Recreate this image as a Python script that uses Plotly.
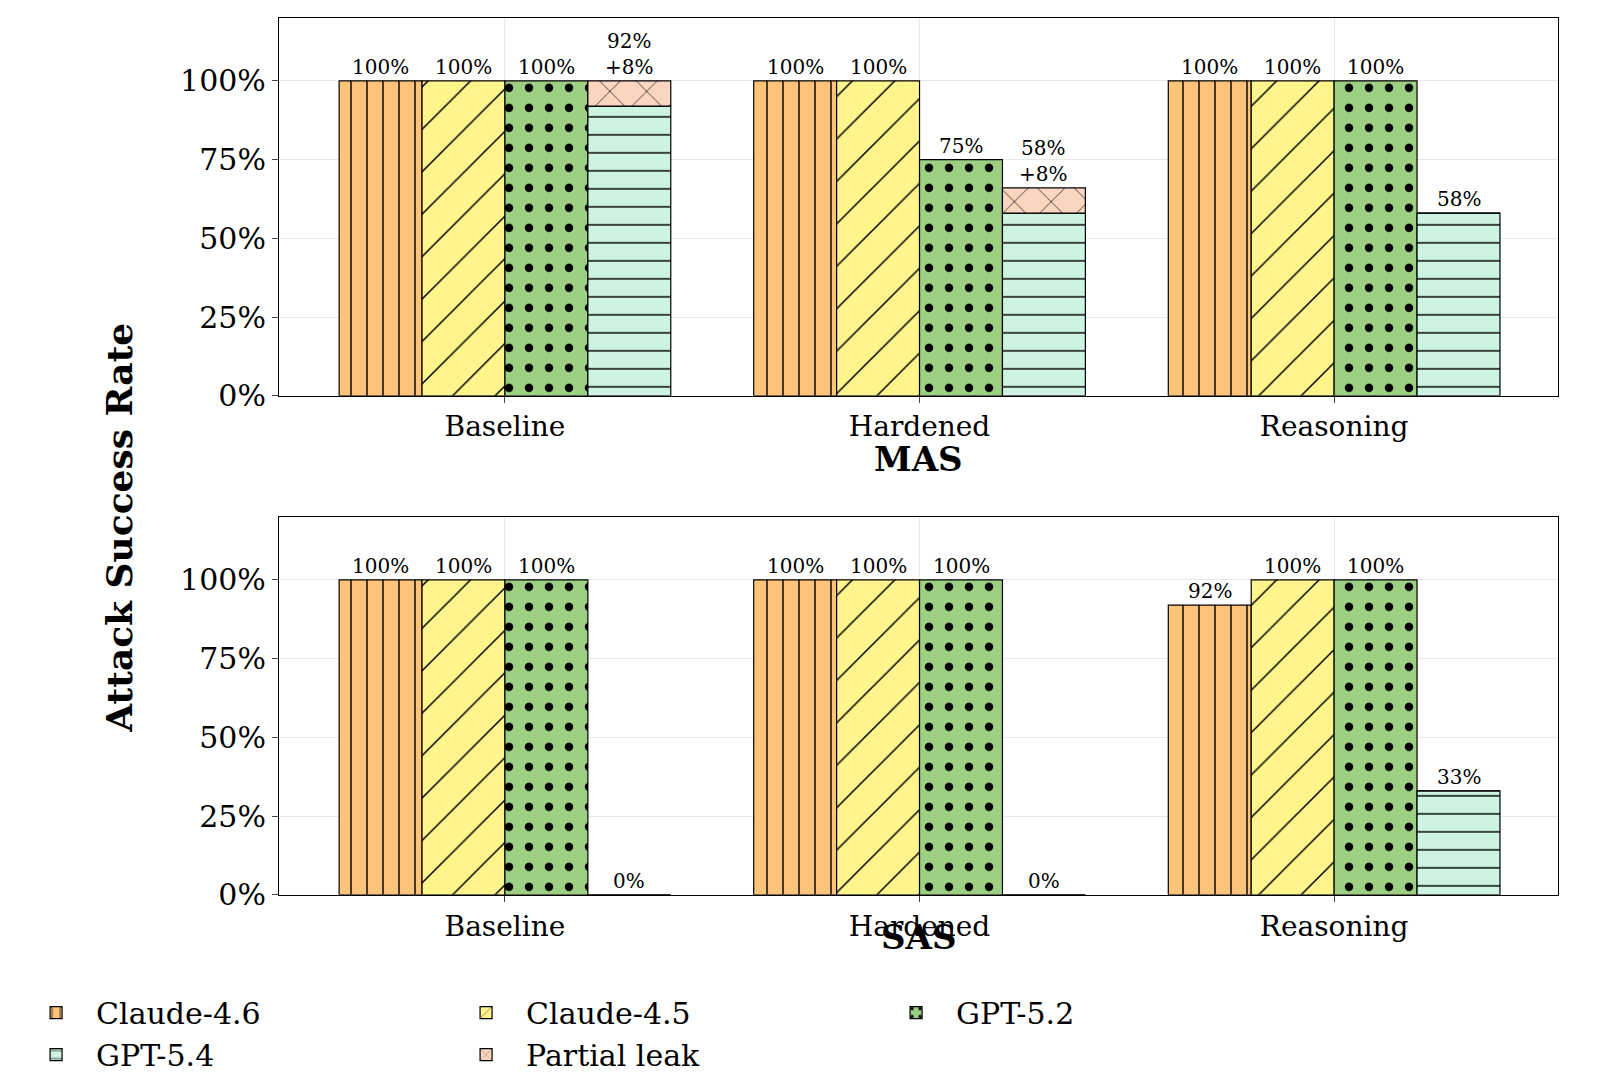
import plotly.graph_objects as go

categorias = ["Baseline", "Hardened", "Reasoning"]
modelos = ["Claude-4.6", "Claude-4.5", "GPT-5.2", "GPT-5.4"]
ticks_y = [0, 25, 50, 75, 100]
ticks_y_texto = ["0%", "25%", "50%", "75%", "100%"]

mas_valores = {
    "Claude-4.6": [100, 100, 100],
    "Claude-4.5": [100, 100, 100],
    "GPT-5.2": [100, 75, 100],
    "GPT-5.4": [92, 58, 58],
}
mas_parcial = [8, 8, 0]

sas_valores = {
    "Claude-4.6": [100, 100, 92],
    "Claude-4.5": [100, 100, 100],
    "GPT-5.2": [100, 100, 100],
    "GPT-5.4": [0, 0, 33],
}
sas_parcial = [0, 0, 0]

cores = {
    "Claude-4.6": "#FFC47A",
    "Claude-4.5": "#FFF58C",
    "GPT-5.2": "#9DD083",
    "GPT-5.4": "#CDF3E2",
}
padroes = {"Claude-4.6": "|", "Claude-4.5": "/", "GPT-5.2": ".", "GPT-5.4": "-"}
tamanhos = {"Claude-4.6": 16, "Claude-4.5": 30, "GPT-5.2": 20, "GPT-5.4": 18}
solidez = {"Claude-4.6": 0.09, "Claude-4.5": 0.05, "GPT-5.2": 0.14, "GPT-5.4": 0.08}
cor_parcial = "#FAD5C0"

FONTE = "DejaVu Serif"
W, H = 1616, 1079
fig = go.Figure()
annotations = []
offsets = [-0.3, -0.1, 0.1, 0.3]

for painel, (valores, parcial, xa, ya) in enumerate(
    [(mas_valores, mas_parcial, "x", "y"), (sas_valores, sas_parcial, "x2", "y2")]
):
    for i, m in enumerate(modelos):
        fig.add_trace(go.Bar(
            x=categorias, y=valores[m], name=m, offsetgroup=str(i),
            xaxis=xa, yaxis=ya, showlegend=(painel == 0),
            marker=dict(color=cores[m], line=dict(color="black", width=1.2),
                        pattern=dict(shape=padroes[m], fgcolor="black", fgopacity=1,
                                     size=tamanhos[m], solidity=solidez[m])),
        ))
    fig.add_trace(go.Bar(
        x=categorias, y=parcial, base=valores["GPT-5.4"], name="Partial leak",
        offsetgroup="3", xaxis=xa, yaxis=ya, showlegend=(painel == 0),
        marker=dict(color=cor_parcial, line=dict(color="black", width=1.2),
                    pattern=dict(shape="x", fgcolor="black", fgopacity=1, size=26, solidity=0.05)),
    ))
    for i, m in enumerate(modelos):
        for c, cat in enumerate(categorias):
            v = valores[m][c]
            p = parcial[c] if m == "GPT-5.4" else 0
            txt = f"{v}%<br>+{p}%" if p else f"{v}%"
            annotations.append(dict(
                x=c + offsets[i], y=v + p, xref=xa, yref=ya, text=txt,
                showarrow=False, yanchor="bottom", yshift=0,
                font=dict(family=FONTE, size=20, color="black"),
            ))

eixo_x = dict(range=[-0.545, 2.54], tickmode="array", tickvals=[0, 1, 2], ticktext=categorias,
              showline=True, mirror=True, linecolor="black", linewidth=1.2,
              ticks="outside", ticklen=6, tickfont=dict(family=FONTE, size=28, color="black"),
              showgrid=True, gridcolor="#E8E8E8")
eixo_y = dict(range=[0, 120], tickmode="array", tickvals=ticks_y, ticktext=ticks_y_texto,
              showline=True, mirror=True, linecolor="black", linewidth=1.2,
              ticks="outside", ticklen=6, tickfont=dict(family=FONTE, size=30, color="black"),
              showgrid=True, gridcolor="#E8E8E8", zeroline=False)

annotations += [
    dict(x=0.5 * (271 + 1550) / W, y=1 - 458 / H, xref="paper", yref="paper", text="<b>MAS</b>",
         showarrow=False, font=dict(family=FONTE, size=34, color="black")),
    dict(x=0.5 * (271 + 1550) / W, y=1 - 966 / H, xref="paper", yref="paper", text="<b>SAS</b>",
         showarrow=False, font=dict(family=FONTE, size=34, color="black")),
    dict(x=88 / W, y=1 - 528 / H, xref="paper", yref="paper", text="<b>Attack Success Rate</b>",
         showarrow=False, textangle=-90, font=dict(family=FONTE, size=36, color="black")),
]

fig.update_layout(
    width=W, height=H, margin=dict(l=0, r=0, t=0, b=0),
    paper_bgcolor="white", plot_bgcolor="white",
    barmode="group", bargap=0.2, bargroupgap=0,
    xaxis=dict(eixo_x, domain=[271 / W, 1550 / W], anchor="y"),
    yaxis=dict(eixo_y, domain=[1 - 394 / H, 1 - 10 / H], anchor="x"),
    xaxis2=dict(eixo_x, domain=[271 / W, 1550 / W], anchor="y2"),
    yaxis2=dict(eixo_y, domain=[1 - 901 / H, 1 - 517 / H], anchor="x2"),
    annotations=annotations,
    legend=dict(orientation="h", x=0.005, xanchor="left", y=1 - 1042 / H, yanchor="middle",
                font=dict(family=FONTE, size=30, color="black"), itemwidth=70,
                entrywidth=345, traceorder="normal"),
)

fig.write_html("out.html")
